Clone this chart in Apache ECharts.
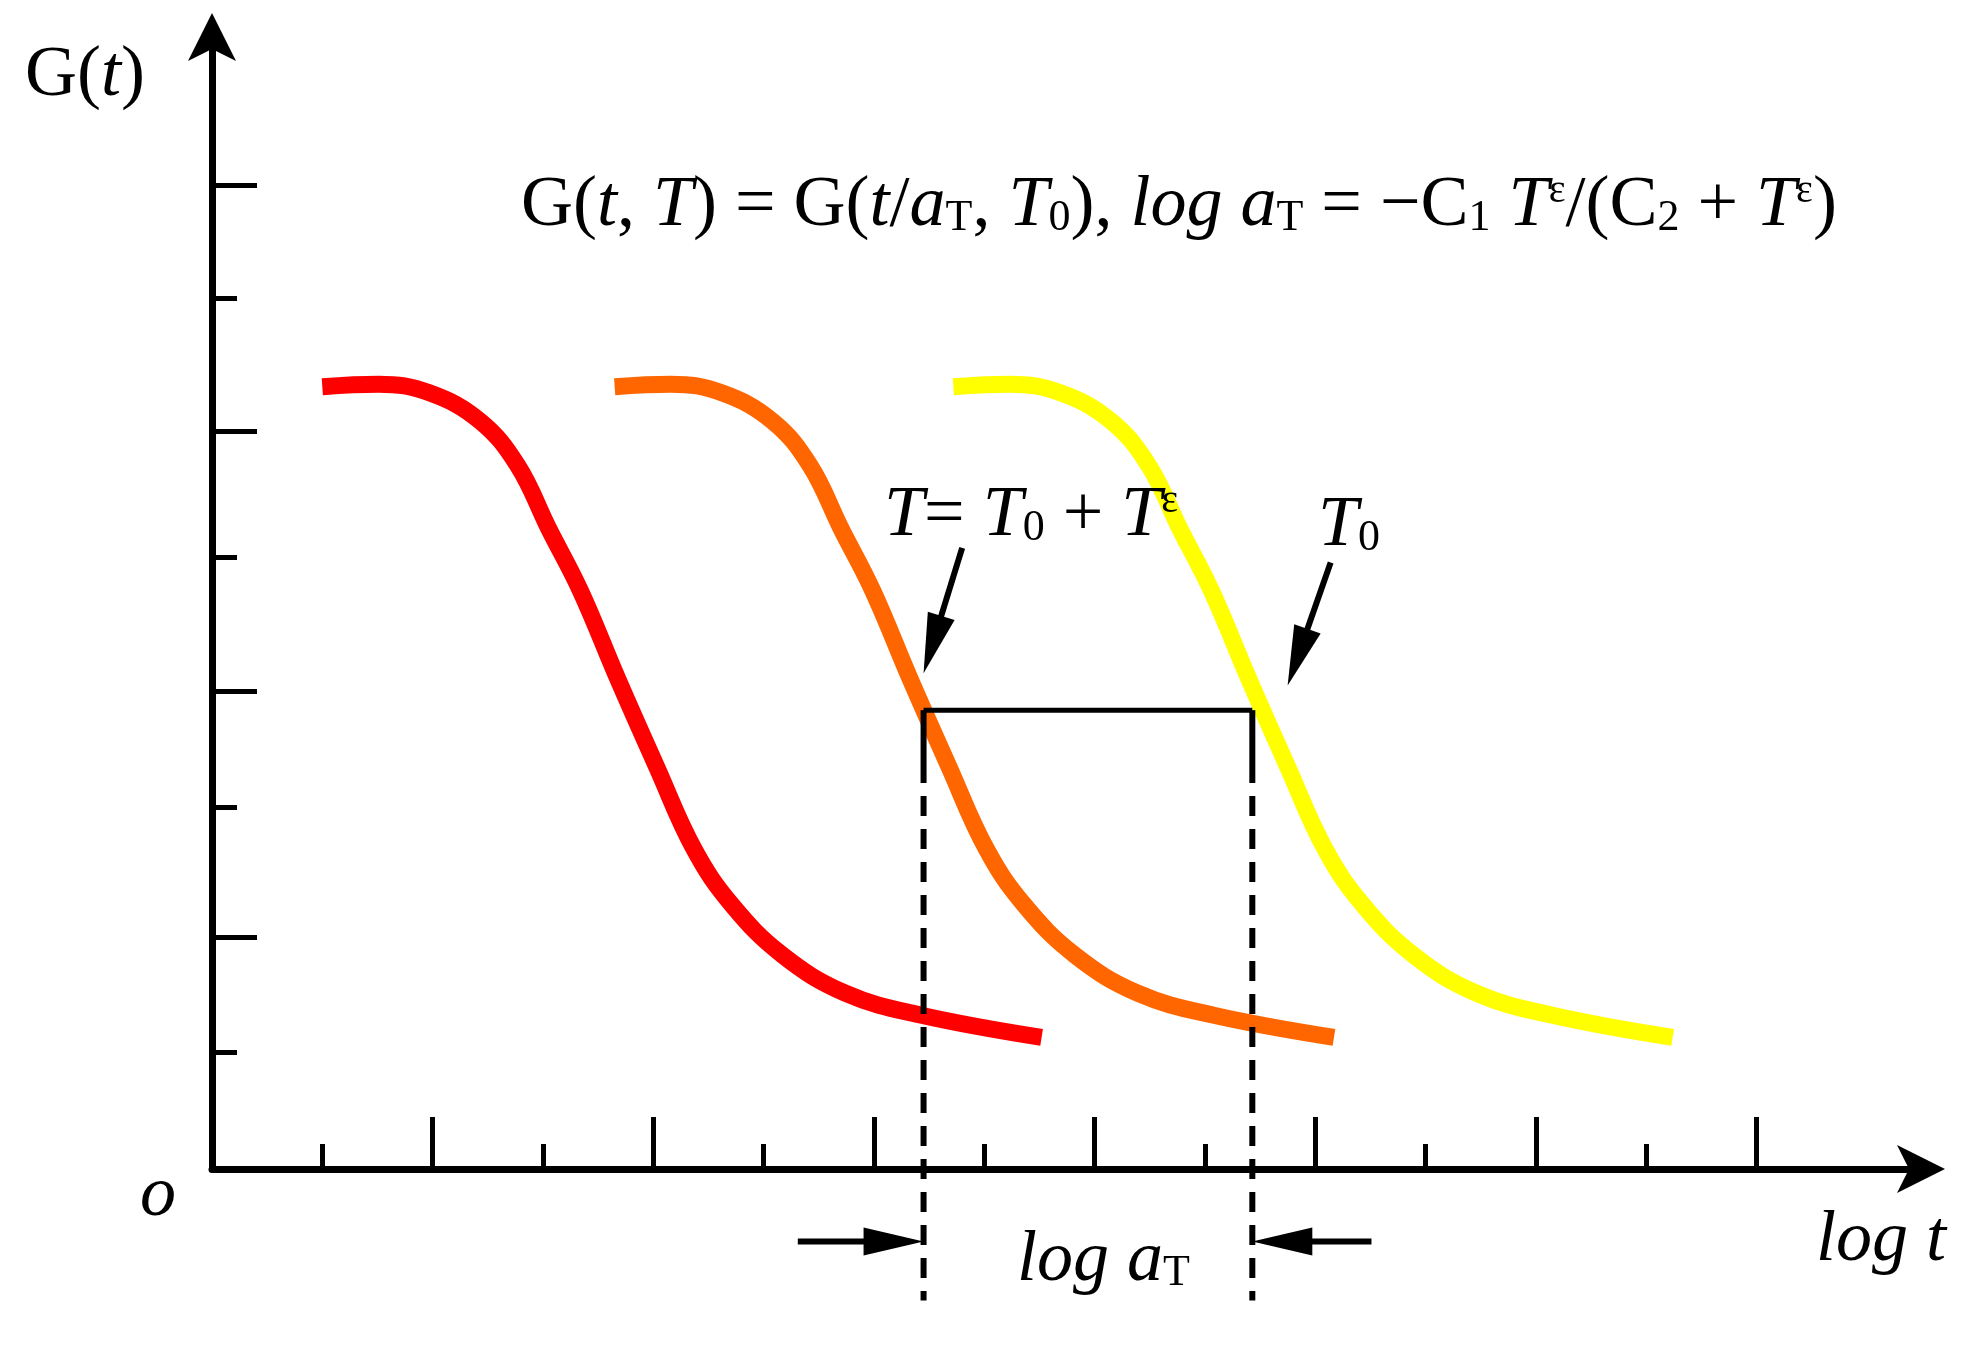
<!DOCTYPE html><html><head><meta charset="utf-8"><script src="https://cdn.jsdelivr.net/npm/echarts@6/dist/echarts.min.js"></script>
<style>html,body{margin:0;background:#fff}#c{width:1971px;height:1345px}</style></head><body><div id="c"></div><script>
const redX=[1.00,1.51,1.97,2.43,2.77,3.05,3.34,3.68,4.03,4.37,4.71,5.17,5.74,6.43,7.52];
const orangeX=[3.65,4.16,4.62,5.08,5.42,5.70,5.99,6.33,6.68,7.02,7.36,7.82,8.39,9.08,10.17];
const yellowX=[6.72,7.23,7.69,8.15,8.49,8.77,9.06,9.40,9.75,10.09,10.43,10.89,11.46,12.15,13.24];
const curveY=[6.36,6.38,6.31,6.08,5.72,5.21,4.70,3.98,3.27,2.60,2.15,1.74,1.43,1.25,1.07];
const xLongTicks=[2,4,6,8,10,12,14], xShortTicks=[1,3,5,7,9,11,13];
const yLongTicks=[1.88,3.88,6.0,8.0], yShortTicks=[0.95,2.94,4.97,7.08];
const shiftLevel=3.73, xT=6.45, xT0=9.43, solidBottom=3.3, dashBottom=-1.07, arrowY=-0.59;
const arrowT=[[6.80,5.05],[6.45,4.03]], arrowT0=[[10.14,4.93],[9.75,3.93]];
const arrowL=[[5.31,arrowY],[xT,arrowY]], arrowR=[[10.51,arrowY],[xT0,arrowY]];
const zip=(xs,ys)=>xs.map((x,i)=>[x,ys[i]]);
const F='"Liberation Serif","DejaVu Serif",serif';
const HEAD='path://M0,0 L-12,44 L12,44 Z';
const HEAD_LEN=60;
const curve=(d,c)=>({type:'line',data:d,smooth:0.4,symbol:'none',clip:false,lineStyle:{color:c,width:17,cap:'butt'}});
const seg=(d,dash,w)=>({type:'line',data:d,symbol:'none',clip:false,lineStyle:{color:'#000',width:w,type:dash?[20,13]:'solid'}});
const tickStyle={color:'#000',width:5};
const mkAxis=(vals,len,main,max,pos)=>({type:'value',min:0,max:max,position:pos,
  axisLine:main?{lineStyle:{color:'#000',width:7},symbol:['none','arrow'],symbolSize:[36,48],symbolOffset:[0,12]}:{show:false,onZero:false},
  axisLabel:{show:false},splitLine:{show:false},axisTick:{inside:true,length:len,customValues:vals,lineStyle:tickStyle}});
const rich={i:{fontFamily:F,fontStyle:'italic',fontSize:72,color:'#000'},n:{fontFamily:F,fontSize:72,color:'#000'},s:{fontFamily:F,fontSize:44,color:'#000',padding:[24,0,0,0]},p:{fontFamily:F,fontSize:40,color:'#000',padding:[0,0,30,0]}};
const txt=(x,y,t)=>({type:'text',left:x,top:y,z:100,style:{text:t,rich:rich}});
const chart=echarts.init(document.getElementById('c'));
const opt={animation:false,backgroundColor:'#fff',
grid:{left:212,right:38,top:25,bottom:176},
xAxis:[mkAxis(xLongTicks,52,true,15.6,'bottom'),mkAxis(xShortTicks,25,false,15.6,'bottom')],
yAxis:[mkAxis(yLongTicks,45,true,9.3,'left'),mkAxis(yShortTicks,25,false,9.3,'left')],
series:[curve(zip(redX,curveY),'#ff0000'),curve(zip(orangeX,curveY),'#ff6600'),curve(zip(yellowX,curveY),'#ffff00'),
seg([[xT,shiftLevel],[xT0,shiftLevel]],false,5),
seg([[xT,shiftLevel],[xT,solidBottom]],false,6),seg([[xT0,shiftLevel],[xT0,solidBottom]],false,6),
seg([[xT,solidBottom],[xT,dashBottom]],true,6),seg([[xT0,solidBottom],[xT0,dashBottom]],true,6)],
graphic:[
txt(25,40,'{n|G(}{i|t}{n|)}'),
txt(140,1160,'{i|o}'),
txt(521,170,'{n|G(}{i|t}{n|, }{i|T}{n|) = G(}{i|t}{n|/}{i|a}{s|T}{n|, }{i|T}{s|0}{n|), }{i|log a}{s|T}{n| = −C}{s|1}{n| }{i|T}{p|ε}{n|/(C}{s|2}{n| + }{i|T}{p|ε}{n|)}'),
txt(884,480,'{i|T}{n|= }{i|T}{s|0}{n| + }{i|T}{p|ε}'),
txt(1318,490,'{i|T}{s|0}'),
txt(1017,1225,'{i|log a}{s|T}'),
txt(1816,1205,'{i|log t}')
]};
chart.setOption(opt);
[arrowT,arrowT0,arrowL,arrowR].forEach(d=>{
  const a=chart.convertToPixel({gridIndex:0},d[0]), b=chart.convertToPixel({gridIndex:0},d[1]);
  const ang=Math.atan2(b[1]-a[1],b[0]-a[0]);
  const c=[b[0]-Math.cos(ang)*HEAD_LEN/2,b[1]-Math.sin(ang)*HEAD_LEN/2];
  const cData=chart.convertFromPixel({gridIndex:0},c);
  const sEnd=chart.convertFromPixel({gridIndex:0},[b[0]-Math.cos(ang)*HEAD_LEN*0.8,b[1]-Math.sin(ang)*HEAD_LEN*0.8]);
  opt.series.push({type:'line',data:[d[0],sEnd],clip:false,symbol:'none',lineStyle:{color:'#000',width:6},z:5});
  opt.series.push({type:'scatter',data:[cData],clip:false,symbol:HEAD,symbolSize:[28,HEAD_LEN],
    symbolRotate:-(ang*180/Math.PI)-90, itemStyle:{color:'#000',opacity:1},z:6});
});
chart.setOption(opt,true);
</script></body></html>
